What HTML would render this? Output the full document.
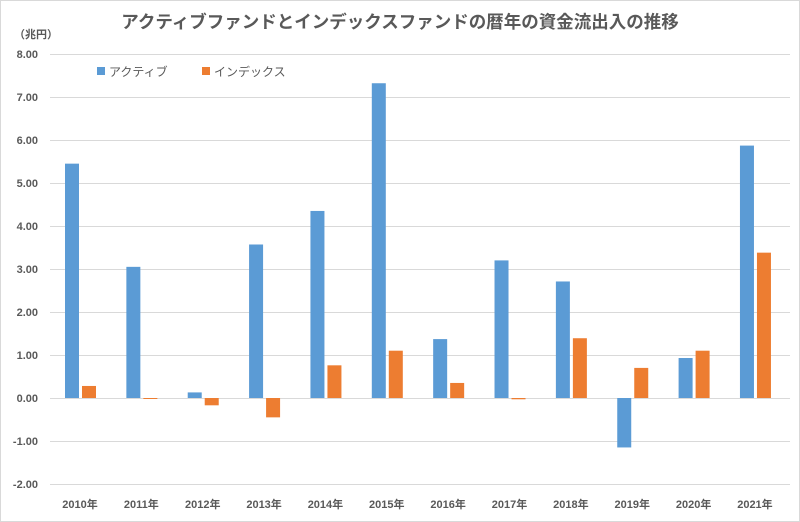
<!DOCTYPE html>
<html><head><meta charset="utf-8"><style>
body{margin:0;background:#fff}
svg{display:block}
text{font-family:"Liberation Sans","Noto Sans CJK JP",sans-serif;fill:#595959}
</style></head><body>
<svg width="800" height="522" xmlns="http://www.w3.org/2000/svg">
<rect x="0.5" y="0.5" width="799" height="521" fill="#fff" stroke="#d9d9d9"/>
<text x="400" y="28" text-anchor="middle" font-size="17.5" font-weight="bold">アクティブファンドとインデックスファンドの暦年の資金流出入の推移</text>
<text x="14" y="38" font-size="11" font-weight="bold">（兆円）</text>
<g id="grid" stroke="#d9d9d9" stroke-width="1"></g>
<g id="ylab" font-size="11" font-weight="bold" text-anchor="end"></g>
<g id="bars"></g>
<g id="xlab" font-size="11" font-weight="bold" text-anchor="middle"></g>
<rect x="97" y="67" width="8" height="8" fill="#5b9bd5"/>
<text x="109" y="76" font-size="12">アクティブ</text>
<rect x="202" y="67" width="8" height="8" fill="#ed7d31"/>
<text x="214" y="76" font-size="12">インデックス</text>
<script>
var ns="http://www.w3.org/2000/svg";
function el(p,t,a,txt){var e=document.createElementNS(ns,t);for(var k in a)e.setAttribute(k,a[k]);if(txt!=null)e.textContent=txt;document.getElementById(p).appendChild(e);}
var z=398,u=43;
for(var v=-2;v<=8;v++){var y=z-v*u;el("grid","line",{x1:50,x2:790,y1:y+0.5,y2:y+0.5});el("ylab","text",{x:38,y:y+4},v.toFixed(2));}
var a=[5.45,3.05,0.13,3.57,4.35,7.32,1.37,3.2,2.71,-1.15,0.93,5.87];
var b=[0.28,-0.02,-0.17,-0.45,0.76,1.1,0.35,-0.03,1.39,0.7,1.1,3.38];
for(var i=0;i<12;i++){var x=65+i*61.36;
function bar(xx,v,c){var h=Math.abs(v)*u;el("bars","rect",{x:xx,y:v>=0?z-h:z,width:14,height:Math.max(h,1),fill:c});}
bar(x,a[i],"#5b9bd5");bar(x+17,b[i],"#ed7d31");
el("xlab","text",{x:x+15,y:508},(2010+i)+"年");}
</script>
</svg>
</body></html>
